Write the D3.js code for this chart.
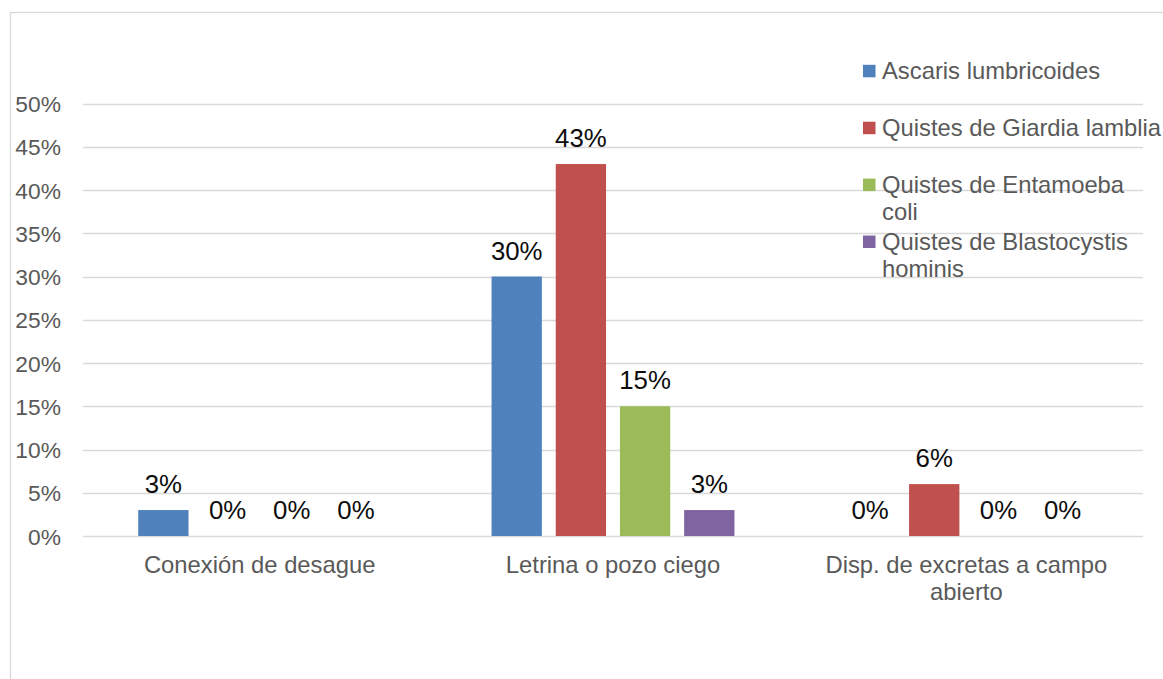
<!DOCTYPE html>
<html><head><meta charset="utf-8">
<script src="https://cdn.jsdelivr.net/npm/d3@7"></script>
<style>
html,body{margin:0;padding:0;background:#fff;}
svg{display:block;font-family:"Liberation Sans",Arial,sans-serif;}
</style></head>
<body>
<svg id="chart" width="1163" height="679"></svg>
<script>
const categories = ["Conexión de desague", "Letrina o pozo ciego", "Disp. de excretas a campo abierto"];
const categoryLines = [["Conexión de desague"], ["Letrina o pozo ciego"], ["Disp. de excretas a campo", "abierto"]];
const seriesNames = ["Ascaris lumbricoides", "Quistes de Giardia lamblia", "Quistes de Entamoeba coli", "Quistes de Blastocystis hominis"];
const legendLines = [["Ascaris lumbricoides"], ["Quistes de Giardia lamblia"], ["Quistes de Entamoeba", "coli"], ["Quistes de Blastocystis", "hominis"]];
const seriesColors = ["#4F81BD", "#C0504D", "#9BBB59", "#8064A2"];
// values per series, in category order
const ascaris = [0.03, 0.30, 0.00];
const giardia = [0.00, 0.43, 0.06];
const entamoeba = [0.00, 0.15, 0.00];
const blastocystis = [0.00, 0.03, 0.00];
const seriesValues = [ascaris, giardia, entamoeba, blastocystis];
const yTicks = [0, 0.05, 0.10, 0.15, 0.20, 0.25, 0.30, 0.35, 0.40, 0.45, 0.50];

const svg = d3.select("#chart");
const plot = {left: 83, right: 1143, top: 103.5, bottom: 536};

// outer border
svg.append("rect").attr("x", 10.5).attr("y", 12.5).attr("width", 1200).attr("height", 700)
  .attr("fill", "none").attr("stroke", "#d9d9d9").attr("stroke-width", 1.3);

const y = d3.scaleLinear().domain([0, 0.5]).range([plot.bottom, plot.top]);
const x0 = d3.scaleBand().domain(categories).range([plot.left, plot.right]).paddingInner(0).paddingOuter(0);
const x1 = d3.scaleBand().domain(seriesNames).range([0, x0.bandwidth()]).paddingInner(0.2165).paddingOuter(0.86);

// gridlines
svg.append("g").selectAll("line").data(yTicks).join("line")
  .attr("x1", plot.left).attr("x2", plot.right)
  .attr("y1", d => Math.round(y(d)) + 0.5).attr("y2", d => Math.round(y(d)) + 0.5)
  .attr("stroke", "#d9d9d9").attr("stroke-width", 1.3);

// y axis labels
const yAxis = d3.axisLeft(y).tickValues(yTicks).tickFormat(d3.format(".0%")).tickSize(0).tickPadding(0);
const yg = svg.append("g").attr("transform", "translate(61,0)").call(yAxis);
yg.select(".domain").remove();
yg.selectAll("text").attr("font-size", 22.8).attr("fill", "#595959").attr("font-family", "Liberation Sans, Arial, sans-serif").attr("dy", "0.36em");

// bars
const flat = [];
seriesNames.forEach((s, si) => categories.forEach((c, ci) => flat.push({s, si, c, ci, v: seriesValues[si][ci]})));
svg.append("g").selectAll("rect").data(flat).join("rect")
  .attr("x", d => x0(d.c) + x1(d.s))
  .attr("y", d => y(d.v))
  .attr("width", x1.bandwidth())
  .attr("height", d => y(0) - y(d.v))
  .attr("fill", d => seriesColors[d.si]);

// data labels
svg.append("g").selectAll("text").data(flat).join("text")
  .attr("x", d => x0(d.c) + x1(d.s) + x1.bandwidth() / 2)
  .attr("y", d => y(d.v) - 17)
  .attr("text-anchor", "middle")
  .attr("font-size", 25.8)
  .attr("fill", "#0d0d0d")
  .text(d => d3.format(".0%")(d.v));

// category labels
const cg = svg.append("g");
categories.forEach((c, ci) => {
  const t = cg.append("text").attr("x", x0(c) + x0.bandwidth() / 2).attr("y", 572.5)
    .attr("text-anchor", "middle").attr("font-size", 23.8).attr("fill", "#595959");
  categoryLines[ci].forEach((ln, li) => t.append("tspan").attr("x", x0(c) + x0.bandwidth() / 2).attr("dy", li === 0 ? 0 : 27.5).text(ln));
});

// legend
const lg = svg.append("g");
seriesNames.forEach((s, si) => {
  const base = 79.3 + si * 56.9;
  lg.append("rect").attr("x", 863).attr("y", base - 14.5).attr("width", 12.5).attr("height", 12.5).attr("fill", seriesColors[si]);
  const t = lg.append("text").attr("x", 882).attr("y", base).attr("font-size", 23.8).attr("fill", "#595959");
  legendLines[si].forEach((ln, li) => t.append("tspan").attr("x", 882).attr("dy", li === 0 ? 0 : 26.8).text(ln));
});
</script>
</body></html>
